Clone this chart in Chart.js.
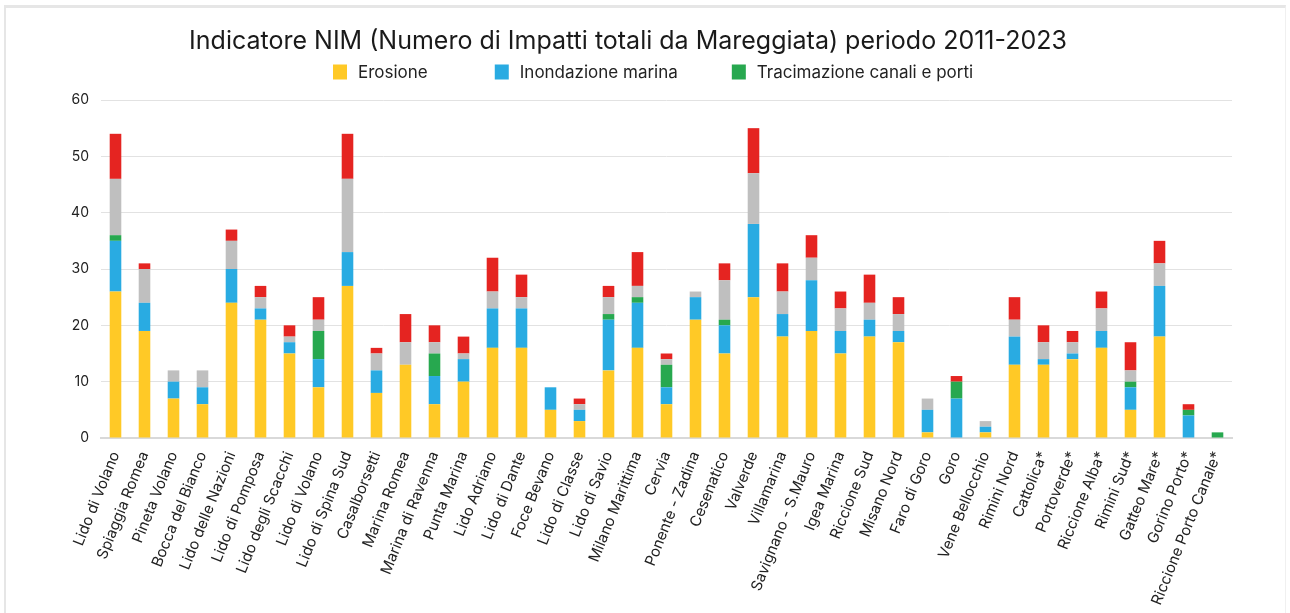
<!DOCTYPE html>
<html lang="it">
<head>
<meta charset="utf-8">
<title>Indicatore NIM</title>
<script src="https://cdn.jsdelivr.net/npm/chart.js@4/dist/chart.umd.min.js"></script>
<style>
  html, body { margin: 0; padding: 0; background: #fff; }
  body { width: 1290px; height: 613px; position: relative; overflow: hidden; }
  .cornice {
    position: absolute; left: 4px; top: 5px; width: 1282px; height: 620px;
    border-top: 3px solid #e6e6e6; border-left: 2px solid #e6e6e6; border-right: 1px solid #f0f0f0;
    box-sizing: border-box;
  }
  #wrap { position: absolute; left: 0; top: 0; width: 1290px; height: 613px; }
</style>
</head>
<body>
<div class="cornice"></div>
<div id="wrap"><canvas id="grafico"></canvas></div>
<script>
// Località lungo la costa
const localita = [
  'Lido di Volano', 'Spiaggia Romea', 'Pineta Volano', 'Bocca del Bianco', 'Lido delle Nazioni',
  'Lido di Pomposa', 'Lido degli Scacchi', 'Lido di Volano', 'Lido di Spina Sud', 'Casalborsetti',
  'Marina Romea', 'Marina di Ravenna', 'Punta Marina', 'Lido Adriano', 'Lido di Dante',
  'Foce Bevano', 'Lido di Classe', 'Lido di Savio', 'Milano Marittima', 'Cervia',
  'Ponente - Zadina', 'Cesenatico', 'Valverde', 'Villamarina', 'Savignano - S.Mauro',
  'Igea Marina', 'Riccione Sud', 'Misano Nord', 'Faro di Goro', 'Goro',
  'Vene Bellocchio', 'Rimini Nord', 'Cattolica*', 'Portoverde*', 'Riccione Alba*',
  'Rimini Sud*', 'Gatteo Mare*', 'Gorino Porto*', 'Riccione Porto Canale*'
];

// Numero di impatti per tipo
const erosione     = [26,19,7,6,24,21,15,9,27,8,13,6,10,16,16,5,3,12,16,6,21,15,25,18,19,15,18,17,1,0,1,13,13,14,16,5,18,0,0];
const inondazione  = [9,5,3,3,6,2,2,5,6,4,0,5,4,7,7,4,2,9,8,3,4,5,13,4,9,4,3,2,4,7,1,5,1,1,3,4,9,4,0];
const tracimazione = [1,0,0,0,0,0,0,5,0,0,0,4,0,0,0,0,0,1,1,4,0,1,0,0,0,0,0,0,0,3,0,0,0,0,0,1,0,1,1];
const serieGrigia  = [10,6,2,3,5,2,1,2,13,3,4,2,1,3,2,0,1,3,2,1,1,7,9,4,4,4,3,3,2,0,1,3,3,2,4,2,4,0,0];
const serieRossa   = [8,1,0,0,2,2,2,4,8,1,5,3,3,6,4,0,1,2,6,1,0,3,8,5,4,3,5,3,0,1,0,4,3,2,3,5,4,1,0];

const tickY = [0, 10, 20, 30, 40, 50, 60];

const serie = [
  { label: 'Erosione', data: erosione, colore: '#FFC926' },
  { label: 'Inondazione marina', data: inondazione, colore: '#29ABE2' },
  { label: 'Tracimazione canali e porti', data: tracimazione, colore: '#27A84F' },
  { label: '', data: serieGrigia, colore: '#BFBFBF' },
  { label: '', data: serieRossa, colore: '#E52421' }
];

const FONT = 'Inter, "Noto Sans", sans-serif';
Chart.defaults.font.family = FONT;
Chart.defaults.color = '#222';

// legenda disegnata a mano: le voci hanno spaziature larghe e diverse tra loro
const legendaRiga = {
  id: 'legendaRiga',
  afterDraw(chart) {
    const ctx = chart.ctx;
    const voci = chart.data.datasets.filter(d => d.label !== '');
    const box = 14, boxH = 15, gapTesto = 11, y = 72;
    const gapVoci = [67, 54];
    ctx.save();
    ctx.font = '17px ' + FONT;
    ctx.textBaseline = 'middle';
    let x = 333;
    voci.forEach((d, i) => {
      ctx.fillStyle = d.backgroundColor;
      ctx.fillRect(x, y - boxH / 2, box, boxH);
      ctx.fillStyle = '#222';
      ctx.fillText(d.label, x + box + gapTesto, y + 1);
      x += box + gapTesto + ctx.measureText(d.label).width + (gapVoci[i] || 0);
    });
    ctx.restore();
  }
};

new Chart(document.getElementById('grafico'), {
  type: 'bar',
  data: {
    labels: localita,
    datasets: serie.map(s => ({
      label: s.label,
      data: s.data,
      backgroundColor: s.colore,
      borderWidth: 0,
      barPercentage: 0.4,
      categoryPercentage: 1
    }))
  },
  plugins: [legendaRiga],
  options: {
    responsive: true,
    maintainAspectRatio: false,
    animation: false,
    layout: { padding: { left: 24, right: 58, top: 0, bottom: 0 } },
    plugins: {
      title: {
        display: true,
        text: 'Indicatore NIM (Numero di Impatti totali da Mareggiata) periodo 2011-2023',
        font: { size: 25, weight: 'normal' },
        color: '#1a1a1a',
        padding: { top: 26, bottom: 44 }
      },
      legend: { display: false },
      tooltip: { enabled: false }
    },
    scales: {
      x: {
        stacked: true,
        grid: { display: false },
        border: { color: '#d9d9d9', width: 2 },
        ticks: {
          autoSkip: false,
          maxRotation: 68,
          minRotation: 68,
          font: { size: 15 },
          color: '#222'
        },
        afterFit: scale => { scale.height = 175; }
      },
      y: {
        stacked: true,
        min: 0,
        max: 60,
        afterBuildTicks: scale => { scale.ticks = tickY.map(v => ({ value: v })); },
        grid: { color: '#e2e2e2', lineWidth: 1, drawTicks: false },
        border: { display: false },
        ticks: { padding: 12, font: { size: 14 }, color: '#222' },
        afterFit: scale => { scale.width = 77; }
      }
    }
  }
});
</script>
</body>
</html>
